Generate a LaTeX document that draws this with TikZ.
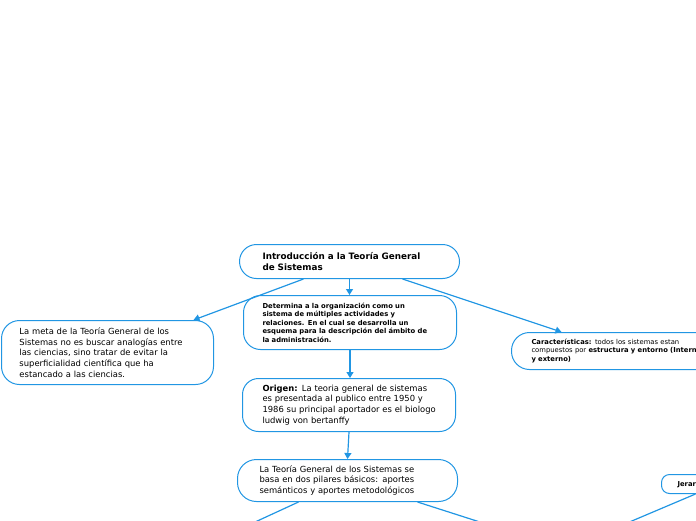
\documentclass[tikz,border=0pt]{standalone}
\usepackage{fontspec}
\setmainfont{DejaVu Sans}
\usetikzlibrary{arrows.meta,calc}
\definecolor{mblue}{HTML}{2196E3}
\tikzset{
  box/.style={draw=mblue, line width=1pt, rounded corners=#1, align=left,
    inner sep=0pt, anchor=north west, fill=white, text=black},
  body/.style={font=\fontsize{8.4}{10.7}\selectfont},
  small/.style={font=\fontsize{6.8}{8.5}\selectfont},
  smallbold/.style={font=\bfseries\fontsize{6.8}{8.5}\selectfont},
  titlef/.style={font=\bfseries\fontsize{8.8}{11}\selectfont},
  conn/.style={draw=mblue, line width=1.2pt, -{Triangle[length=6pt,width=7pt]}},
  plain/.style={draw=mblue, line width=1.2pt},
}
\begin{document}
\begin{tikzpicture}[x=1pt,y=-1pt]
\useasboundingbox (0,0) rectangle (696,520);
\clip (0,0) rectangle (696,520);

\node[box=17, titlef, minimum width=220pt, minimum height=34pt, text width=174pt] (t) at (239,244)
  {Introducción a la Teoría General\\de Sistemas};

\node[box=17, smallbold, minimum width=213pt, minimum height=54pt, text width=175pt] (d) at (243,295)
  {Determina a la organización como un\\sistema de múltiples actividades y\\relaciones. En el cual se desarrolla un\\esquema para la descripción del ámbito de\\la administración.};

\node[box=18, body, minimum width=212pt, minimum height=64pt, text width=176pt] (m) at (1,320)
  {La meta de la Teoría General de los\\Sistemas no es buscar analogías entre\\las ciencias, sino tratar de evitar la\\superficialidad científica que ha\\estancado a las ciencias.};

\node[box=18, small, minimum width=220pt, minimum height=37pt, text width=180pt] (c) at (511,332)
  {\textbf{Características:} todos los sistemas estan\\compuestos por \textbf{estructura y entorno (Interno}\\\textbf{y externo)}};

\node[box=16, body, minimum width=213pt, minimum height=53pt, text width=173pt] (o) at (242,378)
  {\mbox{\textbf{Origen:} La teoria general de sistemas}\\\mbox{es presentada al publico entre 1950 y}\\\mbox{1986 su principal aportador es el biologo}\\ludwig von bertanffy};

\node[box=19, body, minimum width=220pt, minimum height=42pt, text width=176pt] (p) at (237,459)
  {La Teoría General de los Sistemas se\\basa en dos pilares básicos: aportes\\semánticos y aportes metodológicos};

\node[box=8, smallbold, minimum width=100pt, minimum height=19pt, text width=68pt] (j) at (661,474)
  {Jerarquía};

\coordinate (pl) at (216,540);
\coordinate (pr) at (536,540);
\coordinate (jl) at (587,540);

\draw[conn] ([xshift=-46pt]t.south) -- ([xshift=86pt]m.north);
\draw[conn] (t.south) -- (t.south |- d.north);
\draw[conn] ([xshift=53pt]t.south) -- ([xshift=-60pt]c.north);
\draw[conn] (d.south) -- (d.south |- o.north);
\draw[conn] (o.south) -- (p.north);
\draw[plain] ([xshift=-49pt]p.south) -- (pl);
\draw[plain] ([xshift=70pt]p.south) -- (pr);
\draw[plain] ([xshift=-16pt]j.south) -- (jl);
\end{tikzpicture}
\end{document}
